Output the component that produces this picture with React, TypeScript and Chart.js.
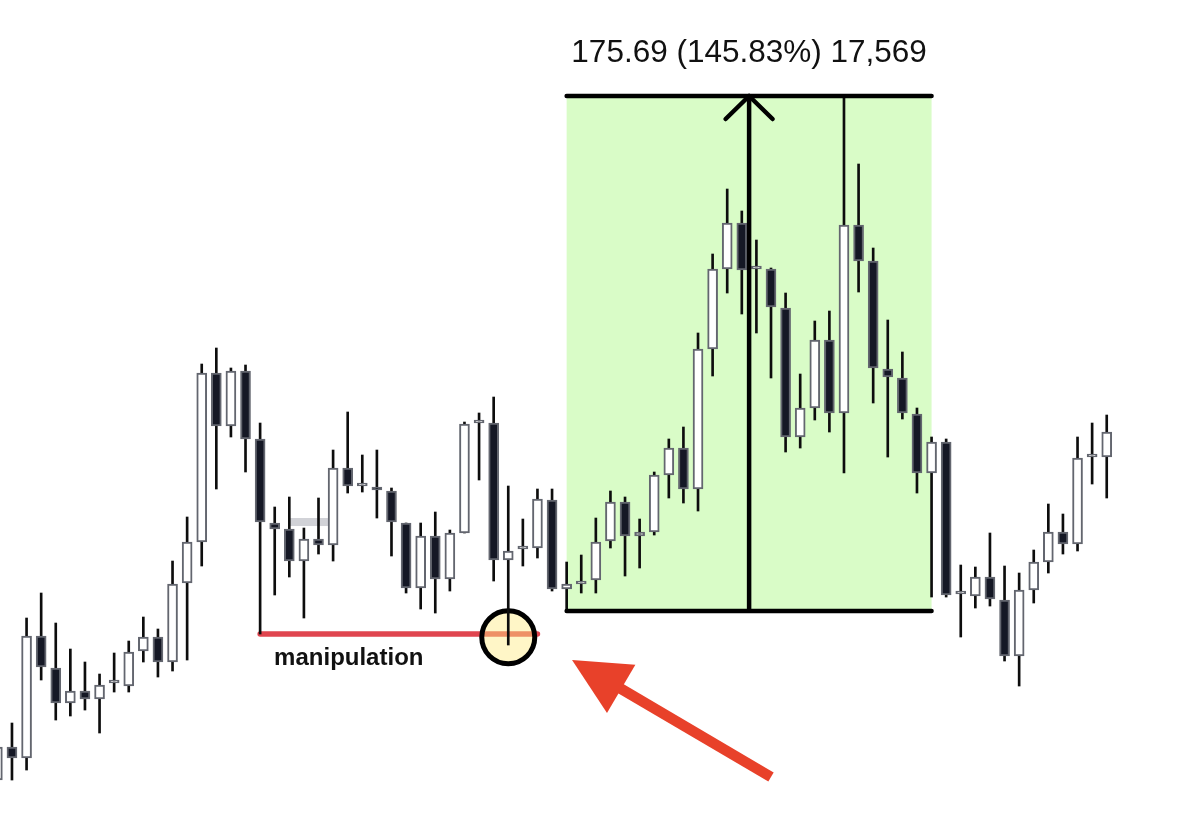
import { useEffect, useRef } from 'react';
import { Chart, registerables } from 'chart.js';

Chart.register(...registerables);

// ---- Candle data (price units) ----
const OPEN = [
  62.81, 74.07, 70.32, 111.94, 101.02, 89.08, 93.18, 90.45, 95.9, 94.88,
  106.82, 111.6, 103.07, 130.02, 144.01, 201.66, 183.58, 202.34, 179.15, 150.49,
  148.44, 137.52, 145.03, 142.98, 169.25, 163.11, 162.77, 161.41, 150.49, 128.31,
  146.05, 131.38, 147.08, 184.6, 184.6, 137.87, 141.62, 141.96, 158.33, 127.97,
  129.68, 131.04, 144.35, 157.65, 146.05, 147.42, 166.86, 176.07, 162.09, 209.85,
  237.14, 252.83, 237.14, 237.14, 223.84, 179.83, 189.72, 212.92, 188.02, 252.15,
  239.87, 203.03, 199.96, 187.67, 167.55, 178.12, 126.27, 125.58, 132.07, 124.22,
  105.12, 127.63, 137.18, 147.42, 143.32, 173.0, 173.0,
];
const HIGH = [
  74.75, 82.26, 118.08, 126.61, 116.37, 107.5, 103.07, 98.97, 106.14, 110.23,
  118.42, 114.33, 137.52, 152.54, 204.73, 210.19, 203.37, 204.39, 184.6, 155.95,
  159.36, 148.78, 159.02, 175.39, 188.36, 173.69, 175.39, 162.43, 150.49, 150.49,
  154.24, 148.1, 184.94, 188.02, 193.47, 163.11, 151.85, 162.09, 162.09, 137.18,
  139.57, 152.19, 161.41, 159.36, 151.85, 167.89, 179.15, 183.24, 215.31, 242.26,
  264.43, 256.93, 247.03, 237.48, 228.95, 201.32, 219.4, 222.81, 296.16, 272.96,
  244.3, 219.74, 208.83, 189.72, 179.83, 179.15, 136.16, 135.48, 147.08, 135.82,
  133.43, 141.28, 156.97, 153.56, 179.83, 184.6, 187.33,
];
const LOW = [
  59.4, 62.81, 66.22, 96.93, 83.28, 84.65, 86.69, 78.85, 92.83, 92.83,
  103.07, 97.95, 100.0, 103.75, 135.82, 162.09, 179.83, 167.89, 112.62, 125.93,
  132.07, 118.08, 139.91, 137.52, 160.72, 161.06, 152.19, 139.23, 126.61, 121.15,
  119.78, 127.29, 147.08, 165.16, 130.7, 108.87, 135.82, 138.55, 127.29, 120.47,
  126.61, 126.61, 141.96, 132.41, 135.14, 146.39, 159.02, 157.31, 154.58, 200.64,
  228.95, 221.79, 215.31, 199.96, 174.71, 176.07, 185.63, 181.53, 167.55, 229.29,
  191.43, 173.0, 185.97, 160.72, 125.24, 125.24, 111.6, 121.49, 122.17, 103.41,
  94.88, 123.2, 133.43, 139.91, 140.94, 163.79, 159.02,
];
const CLOSE = [
  74.07, 70.32, 111.94, 101.36, 89.08, 93.18, 90.45, 95.22, 95.9, 106.48,
  111.6, 103.07, 129.68, 144.01, 201.66, 183.58, 202.34, 179.15, 150.83, 148.44,
  137.52, 145.03, 142.98, 169.25, 163.11, 163.11, 161.75, 150.83, 128.31, 146.05,
  131.38, 147.08, 184.26, 184.6, 137.87, 140.94, 141.62, 158.68, 127.97, 129.68,
  130.7, 144.01, 157.65, 146.05, 147.42, 166.86, 176.07, 162.09, 209.85, 237.14,
  252.83, 236.8, 237.14, 224.18, 179.83, 189.72, 212.92, 188.02, 252.15, 239.87,
  203.37, 200.3, 188.02, 167.55, 178.12, 125.93, 126.27, 132.07, 124.56, 105.12,
  127.63, 137.18, 147.42, 143.32, 172.66, 173.0, 181.53,
];

// ---- Annotation anchors (index / price units) ----
const BOX_START = 39;
const BOX_END = 64;
const BOX_LOW = 120.47;
const BOX_HIGH = 296.16;
const MEASURE_TEXT = '175.69 (145.83%) 17,569';
const SWEEP_START = 18;
const SWEEP_END = 37;
const SWEEP_LEVEL = 112.62;
const SWEEP_LABEL = 'manipulation';
const CIRCLE_INDEX = 35;
const CIRCLE_LEVEL = 111.5;
const GAP_START = 20;
const GAP_END = 22.65;
const GAP_LOW = 149.46;
const GAP_HIGH = 152.19;
const ARROW_TAIL = [53.0, 63.84];
const ARROW_TIP = [39.37, 103.75];

const X_MIN = 0.18;
const X_MAX = 82.39;
const Y_MIN = 45.08;
const Y_MAX = 328.91;

const BULL_FILL = '#ffffff';
const BEAR_FILL = '#151825';
const BODY_BORDER = '#63666f';
const WICK = '#0d0d0d';

const annotations = {
  id: 'annotations',
  beforeDatasetsDraw(chart: any) {
    const { ctx, scales } = chart;
    const x = scales.x;
    const y = scales.y;
    ctx.save();
    // green measurement box
    const bx0 = x.getPixelForValue(BOX_START);
    const bx1 = x.getPixelForValue(BOX_END);
    const by0 = y.getPixelForValue(BOX_HIGH);
    const by1 = y.getPixelForValue(BOX_LOW);
    ctx.fillStyle = '#d9fcc7';
    ctx.fillRect(bx0, by0, bx1 - bx0, by1 - by0);
    // grey band
    const gx0 = x.getPixelForValue(GAP_START);
    const gx1 = x.getPixelForValue(GAP_END);
    const gy0 = y.getPixelForValue(GAP_HIGH);
    const gy1 = y.getPixelForValue(GAP_LOW);
    ctx.fillStyle = '#d1d2d7';
    ctx.fillRect(gx0, gy0, gx1 - gx0, gy1 - gy0);
    // red sweep line
    const ry = y.getPixelForValue(SWEEP_LEVEL);
    ctx.strokeStyle = '#e0454f';
    ctx.lineWidth = 5.5;
    ctx.lineCap = 'round';
    ctx.beginPath();
    ctx.moveTo(x.getPixelForValue(SWEEP_START), ry);
    ctx.lineTo(x.getPixelForValue(SWEEP_END), ry);
    ctx.stroke();
    // circle
    const cx = x.getPixelForValue(CIRCLE_INDEX);
    const cy = y.getPixelForValue(CIRCLE_LEVEL);
    ctx.beginPath();
    ctx.arc(cx, cy, 26.5, 0, Math.PI * 2);
    ctx.fillStyle = 'rgba(255,236,130,0.45)';
    ctx.fill();
    ctx.lineWidth = 5;
    ctx.strokeStyle = '#000000';
    ctx.stroke();
    ctx.restore();
  },
  afterDatasetsDraw(chart: any) {
    const { ctx, scales } = chart;
    const x = scales.x;
    const y = scales.y;
    ctx.save();
    const bx0 = x.getPixelForValue(BOX_START);
    const bx1 = x.getPixelForValue(BOX_END);
    const by0 = y.getPixelForValue(BOX_HIGH);
    const by1 = y.getPixelForValue(BOX_LOW);
    const mx = x.getPixelForValue((BOX_START + BOX_END) / 2);
    ctx.strokeStyle = '#000000';
    ctx.lineWidth = 4.5;
    ctx.lineCap = 'round';
    ctx.lineJoin = 'round';
    ctx.beginPath();
    ctx.moveTo(bx0, by0);
    ctx.lineTo(bx1, by0);
    ctx.moveTo(bx0, by1);
    ctx.lineTo(bx1, by1);
    ctx.moveTo(mx, by1);
    ctx.lineTo(mx, by0);
    ctx.stroke();
    ctx.beginPath();
    ctx.moveTo(mx - 23.5, by0 + 23);
    ctx.lineTo(mx, by0);
    ctx.lineTo(mx + 23.5, by0 + 23);
    ctx.stroke();
    // measure text
    ctx.fillStyle = '#111111';
    ctx.font = '31.5px "Liberation Sans", Arial, sans-serif';
    ctx.textAlign = 'center';
    ctx.textBaseline = 'alphabetic';
    ctx.fillText(MEASURE_TEXT, mx, by0 - 34);
    // manipulation label
    const ry = y.getPixelForValue(SWEEP_LEVEL);
    ctx.font = 'bold 24px "Liberation Sans", Arial, sans-serif';
    ctx.textAlign = 'left';
    ctx.fillText(SWEEP_LABEL, x.getPixelForValue(SWEEP_START) + 14, ry + 31);
    // red arrow
    const tx = x.getPixelForValue(ARROW_TAIL[0]);
    const ty = y.getPixelForValue(ARROW_TAIL[1]);
    const hx = x.getPixelForValue(ARROW_TIP[0]);
    const hy = y.getPixelForValue(ARROW_TIP[1]);
    const dx = hx - tx;
    const dy = hy - ty;
    const len = Math.sqrt(dx * dx + dy * dy);
    const ux = dx / len;
    const uy = dy / len;
    const headLen = 57;
    const halfW = 28;
    const baseX = hx - ux * headLen;
    const baseY = hy - uy * headLen;
    ctx.strokeStyle = '#e8412a';
    ctx.fillStyle = '#e8412a';
    ctx.lineWidth = 10.5;
    ctx.lineCap = 'butt';
    ctx.beginPath();
    ctx.moveTo(tx, ty);
    ctx.lineTo(baseX + ux * 4, baseY + uy * 4);
    ctx.stroke();
    ctx.beginPath();
    ctx.moveTo(hx, hy);
    ctx.lineTo(baseX - uy * halfW, baseY + ux * halfW);
    ctx.lineTo(baseX + uy * halfW, baseY - ux * halfW);
    ctx.closePath();
    ctx.fill();
    ctx.restore();
  },
};

export default function App() {
  const ref = useRef<HTMLCanvasElement>(null);
  useEffect(() => {
    document.body.style.margin = '0';
    if (!ref.current) return;
    const idx = OPEN.map((_, i) => i);
    const chart = new Chart(ref.current, {
      type: 'bar',
      data: {
        datasets: [
          {
            label: 'bodies',
            data: idx.map((i) => ({ x: i, y: [Math.min(OPEN[i], CLOSE[i]), Math.max(OPEN[i], CLOSE[i])] })) as any,
            backgroundColor: idx.map((i) => (CLOSE[i] >= OPEN[i] ? BULL_FILL : BEAR_FILL)),
            borderColor: BODY_BORDER,
            borderWidth: 2,
            borderSkipped: false,
            barThickness: 10,
            minBarLength: 3,
            grouped: false,
            order: 1,
          } as any,
          {
            label: 'wicks',
            data: idx.map((i) => ({ x: i, y: [LOW[i], HIGH[i]] })) as any,
            backgroundColor: WICK,
            borderWidth: 0,
            barThickness: 2,
            grouped: false,
            order: 2,
          } as any,
        ],
      },
      options: {
        animation: false,
        responsive: false,
        maintainAspectRatio: false,
        layout: { padding: 0 },
        plugins: { legend: { display: false }, tooltip: { enabled: false } },
        scales: {
          x: { type: 'linear', min: X_MIN, max: X_MAX, offset: false, bounds: 'data', display: false },
          y: { min: Y_MIN, max: Y_MAX, display: false },
        },
      } as any,
      plugins: [annotations],
    });
    return () => chart.destroy();
  }, []);
  return (
    <div style={{ position: 'absolute', left: 0, top: 0, width: 1200, height: 832, background: '#ffffff' }}>
      <canvas ref={ref} width={1200} height={832} style={{ display: 'block', width: 1200, height: 832 }} />
    </div>
  );
}
